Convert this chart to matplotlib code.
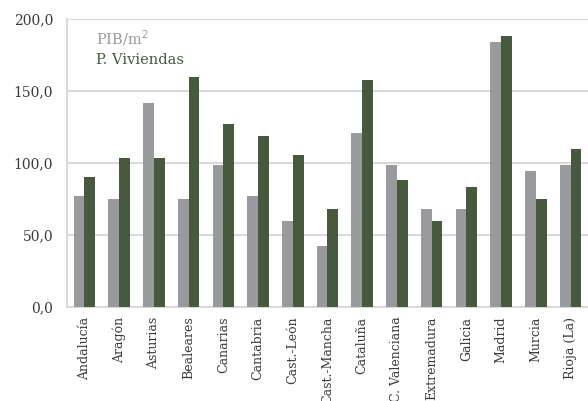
import numpy as np
import matplotlib.pyplot as plt
from matplotlib.ticker import FuncFormatter

# Comunidades autónomas
regiones = ['Andalucía', 'Aragón', 'Asturias', 'Bealeares', 'Canarias', 'Cantabria',
            'Cast.-León', 'Cast.-Mancha', 'Cataluña', 'C. Valenciana', 'Extremadura',
            'Galicia', 'Madrid', 'Murcia', 'Rioja (La)']

# Índices (media = 100)
pib_m2 = [77, 75, 142, 75, 98.6, 77, 60, 42.4, 121, 98.6, 68, 68, 184, 94.4, 98.6]
p_viviendas = [90, 103.5, 103.5, 160, 127, 119, 105.5, 68, 157.6, 88, 60, 83, 188, 75, 110]

color_pib = '#999a9e'
color_viv = '#475a3e'

plt.rcParams['font.family'] = ['DejaVu Serif']

fig = plt.figure(figsize=(5.88, 4.01), dpi=100)
ax = fig.add_axes([0.1139, 0.2344, 0.8861, 0.7182])

x = np.arange(len(regiones))
w = 0.31
ax.bar(x - w / 2, pib_m2, width=w, color=color_pib, label='PIB/m$^2$', zorder=3)
ax.bar(x + w / 2, p_viviendas, width=w, color=color_viv, label='P. Viviendas', zorder=3)

ax.set_xlim(-0.5, len(regiones) - 0.5)
ax.set_ylim(0, 200)
ax.set_yticks([0, 50, 100, 150, 200])
ax.yaxis.set_major_formatter(FuncFormatter(lambda v, p: f'{v:.1f}'.replace('.', ',')))
ax.grid(axis='y', color='#d9d9d9', linewidth=1.5, zorder=0)

ax.set_xticks(x)
ax.set_xticklabels(regiones, rotation=90, va='top', ha='center')
ax.tick_params(axis='both', length=0, labelcolor='#3a3a3a')
ax.tick_params(axis='y', pad=10, labelsize=10)
ax.tick_params(axis='x', pad=7, labelsize=9)

for s in ['top', 'right']:
    ax.spines[s].set_visible(False)
for s in ['left', 'bottom']:
    ax.spines[s].set_color('#d9d9d9')
    ax.spines[s].set_linewidth(1.5)

leg = ax.legend(loc='upper left', bbox_to_anchor=(0.03, 1.015), frameon=False,
                handlelength=0, handletextpad=0, fontsize=10.5, labelspacing=0.35)
for h in leg.legend_handles:
    h.set_visible(False)
for t, c in zip(leg.get_texts(), [color_pib, color_viv]):
    t.set_color(c)

fig.savefig('out.png', dpi=100)
